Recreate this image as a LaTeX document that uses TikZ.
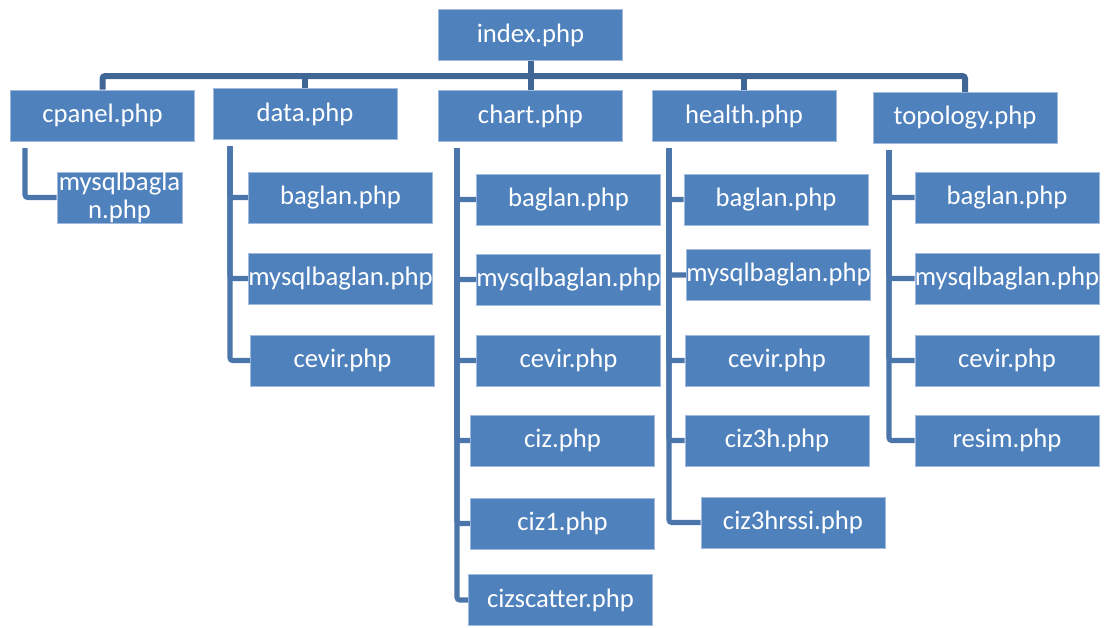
\documentclass[tikz,border=0pt]{standalone}
\usepackage{fontspec}
\setmainfont{Carlito}
\definecolor{boxblue}{RGB}{79,129,189}
\definecolor{edgeblue}{RGB}{160,185,220}
\definecolor{linkblue}{RGB}{74,118,172}
\definecolor{busblue}{RGB}{64,102,150}
\tikzset{every picture/.style={line width=0.75pt}}
\tikzset{
  filebox/.style={fill=boxblue, draw=edgeblue, line width=0.5pt, text=white, inner sep=0pt,
    minimum width=138pt, minimum height=38.5pt, font=\fontsize{20}{20}\selectfont, align=center},
  link/.style={draw=linkblue, line width=3.8pt, rounded corners=2pt},
  bus/.style={draw=busblue, line width=4.5pt, rounded corners=2pt}
}

\begin{document}
\begin{tikzpicture}[x=0.75pt,y=0.75pt,yscale=-1,xscale=1]
    \useasboundingbox (0,0) rectangle (1107,628);

    % Text Node
    \node [filebox] (index) at (530.5,35) {index.php};
    % Text Node
    \node [filebox] (cpanel) at (102.5,115.5) {cpanel.php};
    \node [filebox] (data) at (305,114) {data.php};
    \node [filebox] (chart) at (530.5,116) {chart.php};
    \node [filebox] (health) at (744,116) {health.php};
    \node [filebox] (topology) at (965,118) {topology.php};

    % cpanel children
    \node [filebox, minimum width=93.75pt, font=\fontsize{20}{21}\selectfont] (cpanelA) at (119.5,197.5) {mysqlbagla\\n.php};
    % data children
    \node [filebox] (dataA) at (340.5,197.5) {baglan.php};
    \node [filebox] (dataB) at (340.5,278.5) {mysqlbaglan.php};
    \node [filebox] (dataC) at (342.5,360.5) {cevir.php};
    % chart children
    \node [filebox] (chartA) at (568.5,199.5) {baglan.php};
    \node [filebox] (chartB) at (568.5,279.5) {mysqlbaglan.php};
    \node [filebox] (chartC) at (568.5,360.5) {cevir.php};
    \node [filebox] (chartD) at (562.5,440.5) {ciz.php};
    \node [filebox] (chartE) at (562.5,523.5) {ciz1.php};
    \node [filebox] (chartF) at (560.5,600) {cizscatter.php};
    % health children
    \node [filebox] (healthA) at (776,199.5) {baglan.php};
    \node [filebox] (healthB) at (778.5,275) {mysqlbaglan.php};
    \node [filebox] (healthC) at (777,360.5) {cevir.php};
    \node [filebox] (healthD) at (777,440.5) {ciz3h.php};
    \node [filebox] (healthE) at (793,522.5) {ciz3hrssi.php};
    % topology children
    \node [filebox] (topoA) at (1007,197.5) {baglan.php};
    \node [filebox] (topoB) at (1007,278.5) {mysqlbaglan.php};
    \node [filebox] (topoC) at (1007,360.5) {cevir.php};
    \node [filebox] (topoD) at (1007,440.5) {resim.php};

    %Straight Lines: top bus
    \coordinate (busL) at (100,76);
    \coordinate (busR) at (967,76);
    \draw [bus] (cpanel.north) -- (cpanel.north |- busL) -- (topology.north |- busR) -- (topology.north);
    \draw [bus] (index.south) -- (index.south |- busL);
    \draw [bus] (data.north) -- (data.north |- busL);
    \draw [bus] (chart.north) -- (chart.north |- busL);
    \draw [bus] (health.north) -- (health.north |- busL);

    %Straight Lines: spines
    \coordinate (cpspine) at (25,148);
    \coordinate (dataspine) at (230,146);
    \coordinate (chartspine) at (457,148);
    \coordinate (healthspine) at (669,148);
    \coordinate (topospine) at (889,150);

    \draw [link] (cpspine) |- (cpanelA.west);
    \foreach \c in {dataA,dataB,dataC} \draw [link] (dataspine) |- (\c.west);
    \foreach \c in {chartA,chartB,chartC,chartD,chartE,chartF} \draw [link] (chartspine) |- (\c.west);
    \foreach \c in {healthA,healthB,healthC,healthD,healthE} \draw [link] (healthspine) |- (\c.west);
    \foreach \c in {topoA,topoB,topoC,topoD} \draw [link] (topospine) |- (\c.west);

\end{tikzpicture}
\end{document}
